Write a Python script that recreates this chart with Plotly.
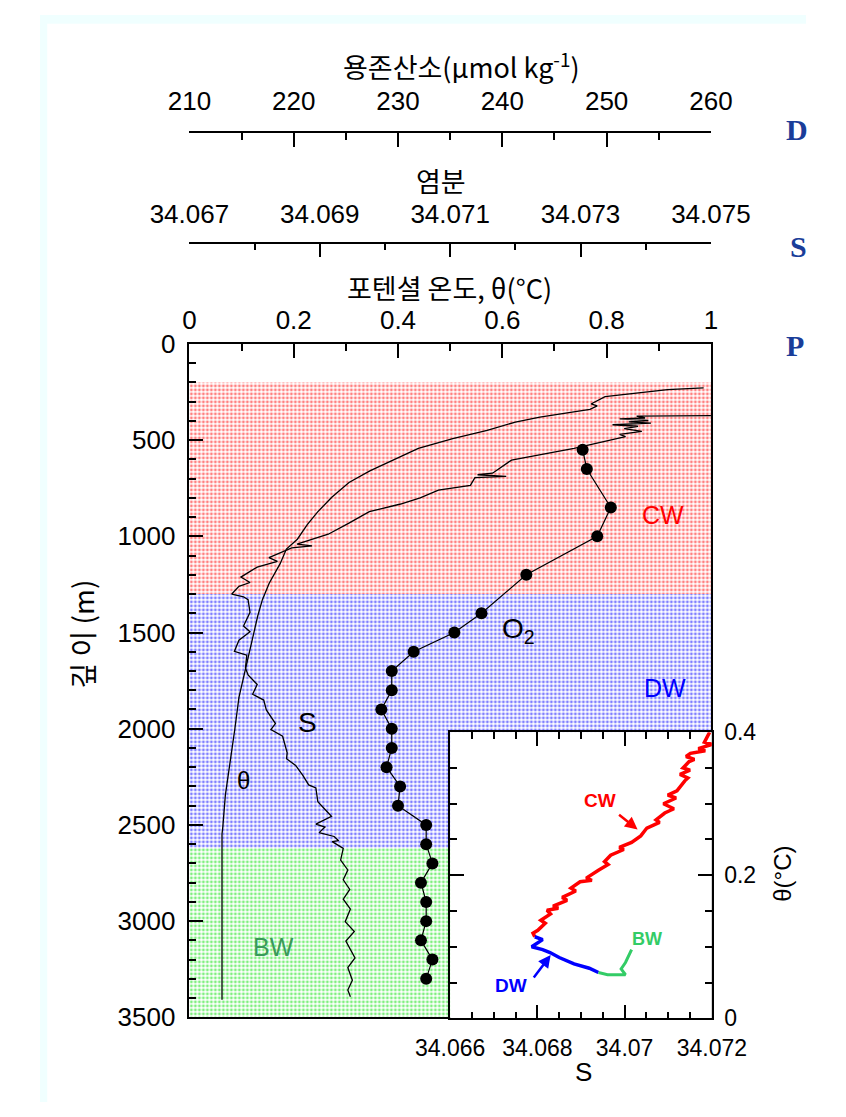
import plotly.graph_objects as go

W, H = 846, 1117
def px(x): return x / W
def py(y): return 1 - y / H

# ---------------- data ----------------
theta_depth = [228, 238, 274, 298, 312, 322, 340, 381, 406, 449, 492, 543, 594, 660, 720, 797, 873, 939,
               1015, 1066, 1142, 1244, 1329, 1414, 1497, 1669, 1837, 2004, 2177, 2344, 2512, 2547, 3409]
theta_val = [0.986, 0.917, 0.797, 0.781, 0.770, 0.782, 0.768, 0.672, 0.625, 0.571, 0.505, 0.439, 0.399, 0.346,
             0.306, 0.273, 0.246, 0.226, 0.207, 0.186, 0.174, 0.153, 0.140, 0.131, 0.124, 0.109, 0.095,
             0.087, 0.078, 0.069, 0.064, 0.0625, 0.0625]

sal_depth = [372, 375, 385, 390, 398, 405, 412, 420, 428, 440, 455, 470, 482, 543, 604, 672, 680, 688, 695,
             735, 760, 800, 832, 872, 933, 989, 1040, 1050, 1060, 1111, 1130, 1160, 1212, 1240, 1260, 1300,
             1314, 1329, 1395, 1466, 1496, 1540, 1598, 1618, 1684, 1720, 1770, 1821, 1851, 1902, 1973, 2004,
             2039, 2125, 2156, 2191, 2242, 2292, 2308, 2379, 2430, 2455, 2496, 2511, 2540, 2560, 2582, 2587,
             2622, 2683, 2734, 2785, 2835, 2886, 2937, 3003, 3054, 3104, 3191, 3241, 3307, 3358, 3393]
sal_val = [34.07520, 34.07386, 34.07399, 34.07360, 34.07404, 34.07374, 34.07408, 34.07349, 34.07388,
           34.07367, 34.07394, 34.07360, 34.07369, 34.07290, 34.07194, 34.07165, 34.07142, 34.07186,
           34.07138, 34.07131, 34.07082, 34.07054, 34.07024, 34.06976, 34.06944, 34.06913, 34.06865,
           34.06888, 34.06857, 34.06822, 34.06835, 34.06804, 34.06779, 34.06793, 34.06776, 34.06765,
           34.06783, 34.06790, 34.06793, 34.06783, 34.06793, 34.06776, 34.06769, 34.06788, 34.06786,
           34.06790, 34.06804, 34.06797, 34.06814, 34.06818, 34.06832, 34.06825, 34.06843, 34.06850,
           34.06849, 34.06863, 34.06874, 34.06883, 34.06894, 34.06897, 34.06911, 34.06918, 34.06894,
           34.06908, 34.06899, 34.06922, 34.06929, 34.06919, 34.06936, 34.06932, 34.06943, 34.06936,
           34.06946, 34.06936, 34.06947, 34.06939, 34.06953, 34.06940, 34.06954, 34.06943, 34.06950,
           34.06943, 34.06947]

o2_depth = [550, 650, 850, 1000, 1200, 1400, 1500, 1600, 1700, 1800, 1900, 2000, 2100, 2200, 2300, 2400,
            2500, 2600, 2700, 2800, 2900, 3000, 3100, 3200, 3300]
o2_val = [247.7, 248.1, 250.4, 249.1, 242.3, 238.0, 235.4, 231.5, 229.4, 229.4, 228.4, 229.4, 229.4, 228.9,
          230.2, 230.0, 232.7, 232.7, 233.3, 232.2, 232.7, 232.7, 232.2, 233.3, 232.7]

# water-mass layers (depth ranges)
layer_names = ["CW", "DW", "BW"]
layer_top = [200, 1300, 2620]
layer_bottom = [1300, 2620, 3500]

# inset T-S diagram
cw_s = [34.07195, 34.07183, 34.07200, 34.07169, 34.07185, 34.07151, 34.07141, 34.07160, 34.07148, 34.07134,
        34.07150, 34.07127, 34.07145, 34.07138, 34.07120, 34.07099, 34.07118, 34.07089, 34.07113, 34.07092,
        34.07072, 34.07080, 34.07051, 34.07037, 34.07016, 34.06988, 34.06998, 34.06968, 34.06954, 34.06962,
        34.06940, 34.06912, 34.06925, 34.06898, 34.06877, 34.06888, 34.06857, 34.06868, 34.06836, 34.06848,
        34.06822, 34.06830, 34.06808, 34.06818, 34.06801, 34.06790, 34.06794]
cw_t = [0.400, 0.386, 0.383, 0.377, 0.374, 0.3705, 0.366, 0.362, 0.359, 0.350, 0.347, 0.341, 0.336, 0.332,
        0.318, 0.312, 0.308, 0.300, 0.293, 0.287, 0.2775, 0.274, 0.266, 0.255, 0.246, 0.239, 0.236, 0.228,
        0.219, 0.215, 0.207, 0.196, 0.193, 0.191, 0.182, 0.178, 0.169, 0.165, 0.157, 0.154, 0.151, 0.146,
        0.137, 0.133, 0.123, 0.119, 0.114]
dw_s = [34.06794, 34.06812, 34.06787, 34.06812, 34.06829, 34.06850, 34.06884, 34.06919, 34.06940]
dw_t = [0.114, 0.110, 0.100, 0.096, 0.092, 0.085, 0.076, 0.070, 0.064]
bw_s = [34.06940, 34.06961, 34.07002, 34.06992, 34.07002, 34.07009, 34.07016]
bw_t = [0.064, 0.061, 0.061, 0.069, 0.078, 0.087, 0.096]

theta_ticks = [0, 0.2, 0.4, 0.6, 0.8, 1]
theta_ticktext = ["0", "0.2", "0.4", "0.6", "0.8", "1"]
sal_ticks = [34.067, 34.069, 34.071, 34.073, 34.075]
sal_ticktext = ["34.067", "34.069", "34.071", "34.073", "34.075"]
o2_ticks = [210, 220, 230, 240, 250, 260]
depth_ticks = [0, 500, 1000, 1500, 2000, 2500, 3000, 3500]
inset_s_ticks = [34.066, 34.068, 34.070, 34.072]
inset_s_text = ["34.066", "34.068", "34.07", "34.072"]
inset_t_ticks = [0, 0.2, 0.4]
inset_t_text = ["0", "0.2", "0.4"]

# ---------------- styles ----------------
FONT = "Liberation Sans, Arial, Noto Sans CJK KR"
KFONT = "Noto Sans CJK KR, Liberation Sans"
layer_fg = ["#ff0000", "#0000ff", "#00e000"]

fig = go.Figure()

for name, t, b, c in zip(layer_names, layer_top, layer_bottom, layer_fg):
    fig.add_trace(go.Bar(
        y=[(t + b) / 2], x=[1], base=0, width=[b - t], orientation="h",
        xaxis="x", yaxis="y", name=name, showlegend=False, hoverinfo="skip",
        marker=dict(color="white", line=dict(width=0),
                    pattern=dict(shape=".", fgcolor=c, bgcolor="white", size=4, solidity=0.42)),
    ))

fig.add_trace(go.Scatter(x=theta_val, y=theta_depth, mode="lines", xaxis="x", yaxis="y",
                         line=dict(color="black", width=1.3), showlegend=False))
fig.add_trace(go.Scatter(x=sal_val, y=sal_depth, mode="lines", xaxis="x2", yaxis="y",
                         line=dict(color="black", width=1.3), showlegend=False))
fig.add_trace(go.Scatter(x=o2_val, y=o2_depth, mode="lines+markers", xaxis="x3", yaxis="y",
                         line=dict(color="black", width=1.2),
                         marker=dict(color="black", size=12, symbol="circle"), showlegend=False))

fig.add_trace(go.Scatter(x=cw_s, y=cw_t, mode="lines", xaxis="x4", yaxis="y2",
                         line=dict(color="#ff0000", width=3.5), showlegend=False))
fig.add_trace(go.Scatter(x=dw_s, y=dw_t, mode="lines", xaxis="x4", yaxis="y2",
                         line=dict(color="#0000ff", width=3.5), showlegend=False))
fig.add_trace(go.Scatter(x=bw_s, y=bw_t, mode="lines", xaxis="x4", yaxis="y2",
                         line=dict(color="#33cc66", width=3), showlegend=False))

main_x = [px(165), px(741)]
main_y = [py(1030), py(338)]
tickfont = dict(family=FONT, size=26, color="black")
common = dict(showgrid=False, zeroline=False, showline=True, linecolor="black", linewidth=1.5,
              ticks="inside", tickcolor="black", tickwidth=1.5, ticklen=14, tickfont=tickfont)
def minor(d):
    return dict(dtick=d, ticklen=7, ticks="inside", tickcolor="black", tickwidth=1.5)

fig.update_layout(
    width=W, height=H, margin=dict(l=0, r=0, t=0, b=0),
    paper_bgcolor="white", plot_bgcolor="white", barmode="overlay",
    font=dict(family=FONT, color="black"),
    xaxis=dict(domain=main_x, range=[0, 1], side="top", anchor="y", mirror=True,
               tickvals=theta_ticks, ticktext=theta_ticktext, ticklabelstandoff=3,
               minor=minor(0.1), **common),
    xaxis2=dict(range=[34.067, 34.075], side="top", anchor="free", overlaying="x", position=py(234),
                tickvals=sal_ticks, ticktext=sal_ticktext, ticklabelstandoff=9,
                minor=minor(0.001), **common),
    xaxis3=dict(range=[210, 260], side="top", anchor="free", overlaying="x", position=py(120),
                tickvals=o2_ticks, ticklabelstandoff=11,
                minor=minor(5), **common),
    yaxis=dict(domain=main_y, range=[3500, 0], anchor="x", mirror=True, tickvals=depth_ticks,
               ticklabelstandoff=7, minor=minor(100), **common),
    xaxis4=dict(domain=[px(453), px(742)], range=[34.066, 34.072], anchor="y2", side="bottom", mirror="allticks",
                tickvals=inset_s_ticks, ticktext=inset_s_text, ticklabelstandoff=8,
                minor=minor(0.0005),
                **{**common, "tickfont": dict(family=FONT, size=23, color="black")}),
    yaxis2=dict(domain=[py(1031), py(737)], range=[0, 0.4], anchor="x4", side="right", mirror="allticks",
                tickvals=inset_t_ticks, ticktext=inset_t_text, ticklabelstandoff=6,
                minor=minor(0.05),
                **{**common, "tickfont": dict(family=FONT, size=23, color="black")}),
)

shapes = [
    dict(type="rect", xref="paper", yref="paper", x0=0, x1=1, y0=py(9), y1=1,
         fillcolor="#f0ffff", line=dict(width=0), layer="below"),
    dict(type="rect", xref="paper", yref="paper", x0=0, x1=px(8), y0=0, y1=1,
         fillcolor="#f0ffff", line=dict(width=0), layer="below"),
]
fig.update_layout(shapes=shapes)

def txt(x, y, text, size, color="black", family=FONT, angle=0, bold=False):
    if bold:
        text = "<b>" + text + "</b>"
    return dict(x=px(x), y=py(y), xref="paper", yref="paper", text=text, showarrow=False,
                font=dict(family=family, size=size, color=color), textangle=angle,
                xanchor="center", yanchor="middle")

def arrow(x0, y0, x1, y1, color):
    return dict(x=px(x1), y=py(y1), xref="paper", yref="paper", ax=x0 - x1, ay=y0 - y1,
                axref="pixel", ayref="pixel", text="", showarrow=True, arrowhead=2,
                arrowsize=1, arrowwidth=2.5, arrowcolor=color)

annotations = [
    txt(466, 52, "용존산소(μmol kg<sup>-1</sup>)", 27, family=KFONT),
    txt(443, 170, "염분", 27, family=KFONT),
    txt(452, 280, "포텐셜 온도, θ(°C)", 27, family=KFONT),
    txt(46, 636, "깊 이 (m)", 28, family=KFONT, angle=-90),
    txt(688, 514, "CW", 25, color="#ff0000"),
    txt(690, 692, "DW", 25, color="#0000ff"),
    txt(258, 958, "BW", 25, color="#3a9a5a"),
    txt(295, 727, "S", 28),
    txt(225, 787, "θ", 24),
    txt(528, 633, "O<sub>2</sub>", 28),
    txt(618, 807, "CW", 19, color="#ff0000", bold=True),
    txt(520, 997, "DW", 19, color="#0000ff", bold=True),
    txt(670, 950, "BW", 18, color="#33cc66", bold=True),
    txt(600, 1086, "S", 26),
    txt(820, 882, "θ(°C)", 24, angle=-90),
    arrow(640, 821, 660, 837, "#ff0000"),
    arrow(546, 990, 564, 966, "#0000ff"),
    dict(x=px(822), y=py(118), xref="paper", yref="paper", text="<b>D</b>", showarrow=False,
         xanchor="left", yanchor="middle", font=dict(family="Liberation Serif", size=30, color="#1a3d99")),
    dict(x=px(826), y=py(238), xref="paper", yref="paper", text="<b>S</b>", showarrow=False,
         xanchor="left", yanchor="middle", font=dict(family="Liberation Serif", size=30, color="#1a3d99")),
    dict(x=px(822), y=py(340), xref="paper", yref="paper", text="<b>P</b>", showarrow=False,
         xanchor="left", yanchor="middle", font=dict(family="Liberation Serif", size=30, color="#1a3d99")),
]
fig.update_layout(annotations=annotations)

fig.write_html("out.html")
